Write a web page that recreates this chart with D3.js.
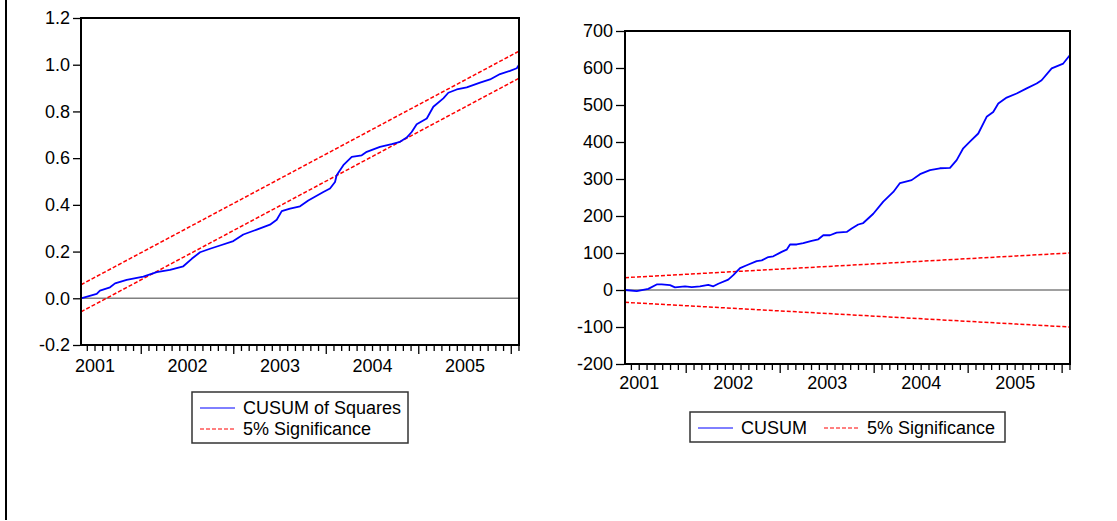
<!DOCTYPE html>
<html>
<head>
<meta charset="utf-8">
<script src="https://cdn.jsdelivr.net/npm/d3@7"></script>
<style>
  body { margin: 0; background: #fff; }
  svg text { font-family: "Liberation Sans", Arial, sans-serif; fill: #000; }
  .domain { display: none; }
</style>
</head>
<body>
<div id="vis"></div>
<script>
// dates are decimal years
const xDomain = [2000.854, 2005.589];
const yearLabels = [2001, 2002, 2003, 2004, 2005];

// CUSUM of squares
const sqYears = [2000.854, 2001.024, 2001.059, 2001.168, 2001.222, 2001.348, 2001.528, 2001.672,
  2001.816, 2001.960, 2002.051, 2002.141, 2002.249, 2002.357, 2002.501, 2002.609, 2002.754,
  2002.897, 2002.970, 2003.024, 2003.114, 2003.222, 2003.311, 2003.474, 2003.546, 2003.600,
  2003.618, 2003.690, 2003.781, 2003.889, 2003.943, 2004.086, 2004.213, 2004.303, 2004.375,
  2004.429, 2004.483, 2004.592, 2004.663, 2004.771, 2004.825, 2004.916, 2005.024, 2005.168,
  2005.276, 2005.384, 2005.492, 2005.565, 2005.589];
const sqValues = [0.000, 0.019, 0.033, 0.047, 0.064, 0.079, 0.093, 0.112,
  0.122, 0.137, 0.169, 0.197, 0.212, 0.226, 0.245, 0.273, 0.294,
  0.315, 0.336, 0.373, 0.384, 0.394, 0.419, 0.455, 0.470, 0.498,
  0.527, 0.570, 0.605, 0.612, 0.627, 0.648, 0.660, 0.670, 0.688,
  0.712, 0.745, 0.770, 0.820, 0.856, 0.880, 0.894, 0.903, 0.923,
  0.937, 0.960, 0.974, 0.985, 1.000];
const sqUpper = [0.058, 1.058];
const sqLower = [-0.058, 0.942];
const sqTicks = [-0.2, 0.0, 0.2, 0.4, 0.6, 0.8, 1.0, 1.2];

// CUSUM
const cusumYears = [2000.854, 2000.979, 2001.102, 2001.191, 2001.245, 2001.333, 2001.386, 2001.493,
  2001.564, 2001.652, 2001.740, 2001.794, 2001.847, 2001.953, 2002.006, 2002.078, 2002.149,
  2002.255, 2002.309, 2002.379, 2002.432, 2002.521, 2002.574, 2002.610, 2002.681, 2002.751,
  2002.840, 2002.911, 2002.964, 2003.035, 2003.106, 2003.213, 2003.266, 2003.336, 2003.389,
  2003.496, 2003.602, 2003.709, 2003.780, 2003.904, 2003.993, 2004.099, 2004.205, 2004.312,
  2004.383, 2004.453, 2004.524, 2004.613, 2004.702, 2004.772, 2004.826, 2004.915, 2005.021,
  2005.128, 2005.234, 2005.287, 2005.394, 2005.517, 2005.589];
const cusumValues = [0, -3, 3, 15, 15, 13, 7, 10,
  8, 10, 14, 10, 17, 28, 40, 59, 67,
  78, 80, 89, 91, 103, 109, 123, 123, 127,
  133, 137, 148, 148, 155, 157, 166, 177, 181,
  206, 239, 265, 289, 297, 313, 324, 329, 330,
  351, 383, 401, 423, 468, 481, 504, 520, 531,
  545, 558, 567, 599, 612, 635];
const cusumUpper = [33.3, 100];
const cusumLower = [-33.3, -100];
const cusumTicks = [-200, -100, 0, 100, 200, 300, 400, 500, 600, 700];

const width = 1117;
const height = 521;

const svg = d3.select('#vis')
  .append('svg')
    .attr('width', width)
    .attr('height', height);

// page frame line on the left
svg.append('line')
  .attr('x1', 6).attr('x2', 6)
  .attr('y1', 0).attr('y2', 520)
  .attr('stroke', '#000')
  .attr('stroke-width', 2);

// plain hyphen for negatives, like the original
const hyphen = f => d => f(d).replace('\u2212', '-');

function drawPanel(cfg) {
  const x = d3.scaleLinear().domain(xDomain).range([cfg.left, cfg.right]);
  const y = d3.scaleLinear().domain(cfg.yDomain).range([cfg.bottom, cfg.top]);
  const g = svg.append('g');

  // zero line
  g.append('line')
    .attr('x1', cfg.left).attr('x2', cfg.right)
    .attr('y1', y(0)).attr('y2', y(0))
    .attr('stroke', '#808080')
    .attr('stroke-width', 1.5);

  const line = d3.line().x(d => x(d[0])).y(d => y(d[1]));

  // significance bands
  [cfg.upper, cfg.lower].forEach(b => {
    g.append('path')
      .datum(xDomain.map((t, i) => [t, b[i]]))
      .attr('d', line)
      .attr('fill', 'none')
      .attr('stroke', '#ff0000')
      .attr('stroke-width', 1.5)
      .attr('stroke-dasharray', '4,2');
  });

  g.append('path')
    .datum(cfg.years.map((t, i) => [t, cfg.values[i]]))
    .attr('d', line)
    .attr('fill', 'none')
    .attr('stroke', '#0000ff')
    .attr('stroke-width', 1.8)
    .attr('stroke-linejoin', 'round');

  // frame
  g.append('rect')
    .attr('x', cfg.left).attr('y', cfg.top)
    .attr('width', cfg.right - cfg.left)
    .attr('height', cfg.bottom - cfg.top)
    .attr('fill', 'none')
    .attr('stroke', '#000')
    .attr('stroke-width', 2);

  // y axis
  g.append('g')
    .attr('transform', `translate(${cfg.left - 1},0)`)
    .call(d3.axisLeft(y).tickValues(cfg.yTicks).tickSize(cfg.yTickSize)
      .tickPadding(3).tickFormat(hyphen(cfg.yFormat)))
    .attr('font-size', 18)
    .call(a => a.selectAll('line').attr('stroke', '#000').attr('stroke-width', 1.3))
    .call(a => a.selectAll('text').style('font-size', '18px'));

  // x axis: monthly minor ticks, July major ticks, year labels
  const months = d3.range(0, 12 * 6).map(m => 2000 + m / 12)
    .filter(t => t >= xDomain[0] && t <= xDomain[1]);
  const minor = months.filter(t => Math.abs((t % 1) - 0.5) > 1e-6);
  const major = months.filter(t => Math.abs((t % 1) - 0.5) < 1e-6);

  g.append('g')
    .attr('transform', `translate(0,${cfg.bottom + 1})`)
    .call(d3.axisBottom(x).tickValues(minor).tickSize(5).tickFormat(''))
    .call(a => a.selectAll('line').attr('stroke', '#000').attr('stroke-width', 1.3));

  g.append('g')
    .attr('transform', `translate(0,${cfg.bottom + 1})`)
    .call(d3.axisBottom(x).tickValues(major).tickSize(8).tickFormat(''))
    .call(a => a.selectAll('line').attr('stroke', '#000').attr('stroke-width', 1.3));

  g.append('g')
    .attr('transform', `translate(0,${cfg.bottom})`)
    .call(d3.axisBottom(x).tickValues(yearLabels).tickSize(0)
      .tickPadding(cfg.xLabelPad).tickFormat(d3.format('d')))
    .attr('font-size', 18)
    .call(a => a.selectAll('text').style('font-size', '18px'));

  // legend
  const lg = svg.append('g');
  lg.append('rect')
    .attr('x', cfg.legend.x).attr('y', cfg.legend.y)
    .attr('width', cfg.legend.w).attr('height', cfg.legend.h)
    .attr('fill', '#fff')
    .attr('stroke', '#333')
    .attr('stroke-width', 1.5);

  cfg.legend.items.forEach(it => {
    lg.append('line')
      .attr('x1', it.x).attr('x2', it.x + 35)
      .attr('y1', it.y).attr('y2', it.y)
      .attr('stroke', it.color)
      .attr('stroke-width', 1)
      .attr('stroke-dasharray', it.dash ? '4,2' : null);
    lg.append('text')
      .attr('x', it.x + 43)
      .attr('y', it.y)
      .attr('dy', '0.36em')
      .style('font-size', '18px')
      .text(it.label);
  });
}

drawPanel({
  left: 81, right: 519, top: 18, bottom: 345,
  yDomain: [-0.2, 1.2], yTicks: sqTicks, yTickSize: 7,
  yFormat: d3.format('.1f'), xLabelPad: 14,
  years: sqYears, values: sqValues, upper: sqUpper, lower: sqLower,
  legend: {
    x: 192, y: 392, w: 216, h: 51,
    items: [
      { x: 200, y: 408, color: '#0000ff', dash: false, label: 'CUSUM of Squares' },
      { x: 200, y: 429, color: '#ff0000', dash: true, label: '5% Significance' }
    ]
  }
});

drawPanel({
  left: 625, right: 1070, top: 31, bottom: 364,
  yDomain: [-200, 700], yTicks: cusumTicks, yTickSize: 8,
  yFormat: d3.format('d'), xLabelPad: 12,
  years: cusumYears, values: cusumValues, upper: cusumUpper, lower: cusumLower,
  legend: {
    x: 690, y: 412, w: 315, h: 30,
    items: [
      { x: 698, y: 428, color: '#0000ff', dash: false, label: 'CUSUM' },
      { x: 824, y: 428, color: '#ff0000', dash: true, label: '5% Significance' }
    ]
  }
});
</script>
</body>
</html>
